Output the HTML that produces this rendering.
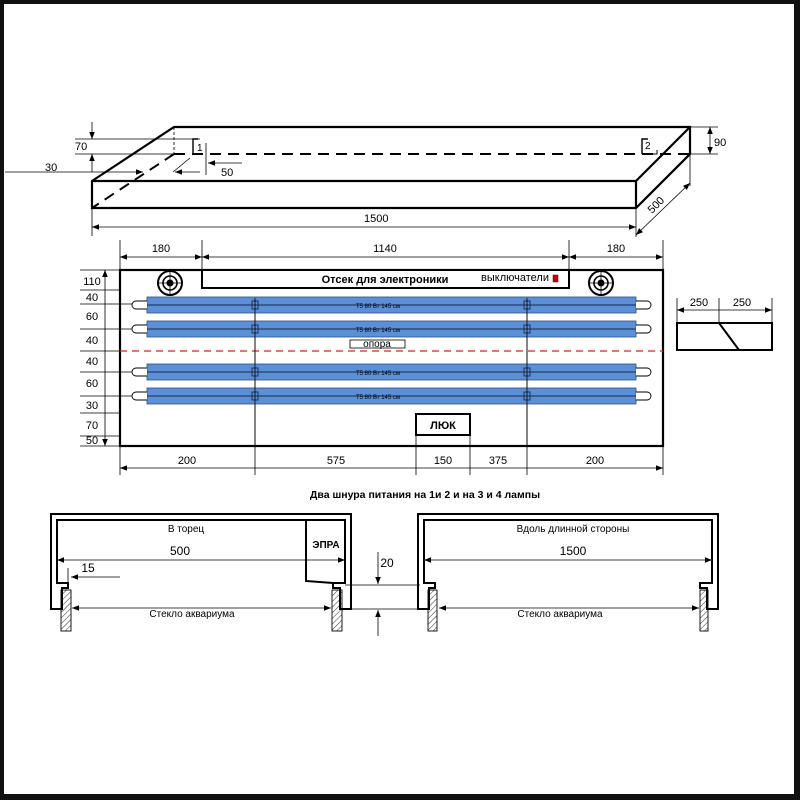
<!DOCTYPE html>
<html><head><meta charset="utf-8"><style>
html,body{margin:0;padding:0;background:#fff}
svg{display:block}
text{font-family:"Liberation Sans",sans-serif;fill:#000}
</style></head><body>
<svg width="800" height="800" viewBox="0 0 800 800" xmlns="http://www.w3.org/2000/svg">
<defs>
<marker id="a" viewBox="0 0 10 10" refX="10" refY="5" markerWidth="9" markerHeight="7" orient="auto-start-reverse" markerUnits="userSpaceOnUse"><path d="M0,1 L10,5 L0,9 z" fill="#000"/></marker>
<pattern id="h" width="4" height="4" patternUnits="userSpaceOnUse" patternTransform="rotate(45)"><line x1="0" y1="0" x2="0" y2="4" stroke="#000" stroke-width="0.8"/></pattern>
</defs>
<rect x="0" y="0" width="800" height="800" fill="#111"/>
<rect x="4" y="4" width="790" height="790" fill="#fff"/>

<!-- 3D box -->
<g stroke="#000" fill="none">
<polygon points="92,181 174,127 690,127 690,154 636,208 92,208" stroke-width="2.2"/>
<line x1="92" y1="181" x2="636" y2="181" stroke-width="2.2"/>
<line x1="636" y1="181" x2="690" y2="127" stroke-width="2.2"/>
<line x1="636" y1="181" x2="636" y2="208" stroke-width="2.2"/>
<line x1="174" y1="154" x2="690" y2="154" stroke-width="2" stroke-dasharray="11,7"/>
<line x1="174" y1="154" x2="92" y2="208" stroke-width="2" stroke-dasharray="11,7"/>
<line x1="174" y1="127" x2="174" y2="154" stroke-width="0.8" stroke-dasharray="3,2"/>
<polyline points="193,154 193,139 198,139" stroke-width="1.4"/>
<line x1="206" y1="143" x2="206" y2="175" stroke-width="0.8"/>
<polyline points="642,154 642,139 648,139" stroke-width="1.4"/>
<polyline points="650,154 657,154 657,150" stroke-width="1"/>
<g stroke-width="0.8">
<line x1="75" y1="139" x2="200" y2="139"/><line x1="75" y1="154" x2="174" y2="154"/>
<line x1="92" y1="122" x2="92" y2="139" marker-end="url(#a)"/>
<line x1="92" y1="172" x2="92" y2="154" marker-end="url(#a)"/>
<line x1="5" y1="172" x2="143" y2="172" marker-end="url(#a)"/>
<line x1="200" y1="172" x2="175" y2="172" marker-end="url(#a)"/>
<line x1="173" y1="172" x2="190" y2="158"/>
<line x1="242" y1="163" x2="208" y2="163" marker-end="url(#a)"/>
<line x1="690" y1="127" x2="718" y2="127"/><line x1="690" y1="154" x2="718" y2="154"/>
<line x1="710" y1="140" x2="710" y2="127" marker-end="url(#a)"/>
<line x1="710" y1="140" x2="710" y2="154" marker-end="url(#a)"/>
<line x1="690" y1="154" x2="690" y2="186"/><line x1="636" y1="208" x2="636" y2="237"/>
<line x1="663" y1="209" x2="690" y2="183" marker-end="url(#a)"/>
<line x1="663" y1="209" x2="636" y2="235" marker-end="url(#a)"/>
<line x1="92" y1="208" x2="92" y2="236"/>
<line x1="364" y1="227" x2="92" y2="227" marker-end="url(#a)"/>
<line x1="364" y1="227" x2="636" y2="227" marker-end="url(#a)"/>
</g>
</g>
<g font-size="11">
<text x="75" y="150">70</text><text x="45" y="171">30</text>
<text x="197" y="151" font-size="10">1</text><text x="221" y="176">50</text>
<text x="645" y="149" font-size="10">2</text>
<text x="714" y="146">90</text>
<text x="364" y="222">1500</text>
<text x="652" y="214" transform="rotate(-45 652 214)">500</text>
</g>

<!-- Plan -->
<g stroke="#000" fill="none" stroke-width="0.8">
<line x1="120" y1="240" x2="120" y2="475"/><line x1="202" y1="240" x2="202" y2="270"/>
<line x1="569" y1="240" x2="569" y2="270"/><line x1="663" y1="240" x2="663" y2="475"/>
<line x1="161" y1="257" x2="120" y2="257" marker-end="url(#a)"/><line x1="161" y1="257" x2="202" y2="257" marker-end="url(#a)"/>
<line x1="385" y1="257" x2="202" y2="257" marker-end="url(#a)"/><line x1="385" y1="257" x2="569" y2="257" marker-end="url(#a)"/>
<line x1="616" y1="257" x2="569" y2="257" marker-end="url(#a)"/><line x1="616" y1="257" x2="663" y2="257" marker-end="url(#a)"/>
<line x1="255" y1="298" x2="255" y2="475"/><line x1="527" y1="298" x2="527" y2="475"/>
<line x1="416" y1="425" x2="416" y2="475"/><line x1="470" y1="425" x2="470" y2="475"/>
<line x1="391" y1="468" x2="120" y2="468" marker-end="url(#a)"/><line x1="391" y1="468" x2="663" y2="468" marker-end="url(#a)"/>
<line x1="80" y1="270" x2="120" y2="270"/><line x1="80" y1="290" x2="120" y2="290"/>
<line x1="80" y1="304" x2="147" y2="304"/><line x1="80" y1="329" x2="147" y2="329"/>
<line x1="80" y1="351" x2="120" y2="351"/><line x1="80" y1="372" x2="147" y2="372"/>
<line x1="80" y1="396" x2="147" y2="396"/><line x1="80" y1="413" x2="120" y2="413"/>
<line x1="80" y1="436" x2="120" y2="436"/><line x1="80" y1="446" x2="120" y2="446"/>
<line x1="105" y1="358" x2="105" y2="270" marker-end="url(#a)"/><line x1="105" y1="358" x2="105" y2="446" marker-end="url(#a)"/>
</g>
<rect x="120" y="270" width="543" height="176" fill="none" stroke="#000" stroke-width="2.2"/>
<rect x="202" y="270" width="367" height="18" fill="#fff" stroke="#000" stroke-width="2"/>
<text x="385" y="283" font-size="11" font-weight="bold" text-anchor="middle">Отсек для электроники</text>
<text x="515" y="281" font-size="11" text-anchor="middle">выключатели</text>
<rect x="553" y="275" width="5" height="7" fill="#c00" stroke="#600" stroke-width="0.5"/>
<g stroke="#000" fill="none">
<circle cx="170" cy="283" r="12" stroke-width="2"/><circle cx="170" cy="283" r="7" stroke-width="1.6"/><circle cx="170" cy="283" r="3" fill="#000"/>
<line x1="158" y1="283" x2="182" y2="283" stroke-width="0.8"/><line x1="170" y1="271" x2="170" y2="295" stroke-width="0.8"/>
<circle cx="601" cy="283" r="12" stroke-width="2"/><circle cx="601" cy="283" r="7" stroke-width="1.6"/><circle cx="601" cy="283" r="3" fill="#000"/>
<line x1="589" y1="283" x2="613" y2="283" stroke-width="0.8"/><line x1="601" y1="271" x2="601" y2="295" stroke-width="0.8"/>
</g>
<line x1="120" y1="351" x2="663" y2="351" stroke="#d22" stroke-width="1.2" stroke-dasharray="7,5"/>
<g id="lamps">
<g>
<rect x="147" y="297" width="489" height="16" fill="#5b8fd6" stroke="#2d4f86" stroke-width="0.8"/>
<line x1="133" y1="305" x2="636" y2="305" stroke="#1a2a4a" stroke-width="1"/>
<path d="M147,301 H136 A4,4 0 0 0 136,309 H147 M636,301 H647 A4,4 0 0 1 647,309 H636" fill="#fff" stroke="#000" stroke-width="0.9"/>
<rect x="252" y="301" width="6" height="8" fill="none" stroke="#1a2a4a" stroke-width="0.9"/>
<rect x="524" y="301" width="6" height="8" fill="none" stroke="#1a2a4a" stroke-width="0.9"/>
<text x="378" y="308" font-size="6" fill="#1a2a4a" text-anchor="middle">T5 80 Вт 145 см</text>
</g>
<g transform="translate(0,24)">
<rect x="147" y="297" width="489" height="16" fill="#5b8fd6" stroke="#2d4f86" stroke-width="0.8"/>
<line x1="133" y1="305" x2="636" y2="305" stroke="#1a2a4a" stroke-width="1"/>
<path d="M147,301 H136 A4,4 0 0 0 136,309 H147 M636,301 H647 A4,4 0 0 1 647,309 H636" fill="#fff" stroke="#000" stroke-width="0.9"/>
<rect x="252" y="301" width="6" height="8" fill="none" stroke="#1a2a4a" stroke-width="0.9"/>
<rect x="524" y="301" width="6" height="8" fill="none" stroke="#1a2a4a" stroke-width="0.9"/>
<text x="378" y="308" font-size="6" fill="#1a2a4a" text-anchor="middle">T5 80 Вт 145 см</text>
</g>
<g transform="translate(0,67)">
<rect x="147" y="297" width="489" height="16" fill="#5b8fd6" stroke="#2d4f86" stroke-width="0.8"/>
<line x1="133" y1="305" x2="636" y2="305" stroke="#1a2a4a" stroke-width="1"/>
<path d="M147,301 H136 A4,4 0 0 0 136,309 H147 M636,301 H647 A4,4 0 0 1 647,309 H636" fill="#fff" stroke="#000" stroke-width="0.9"/>
<rect x="252" y="301" width="6" height="8" fill="none" stroke="#1a2a4a" stroke-width="0.9"/>
<rect x="524" y="301" width="6" height="8" fill="none" stroke="#1a2a4a" stroke-width="0.9"/>
<text x="378" y="308" font-size="6" fill="#1a2a4a" text-anchor="middle">T5 80 Вт 145 см</text>
</g>
<g transform="translate(0,91)">
<rect x="147" y="297" width="489" height="16" fill="#5b8fd6" stroke="#2d4f86" stroke-width="0.8"/>
<line x1="133" y1="305" x2="636" y2="305" stroke="#1a2a4a" stroke-width="1"/>
<path d="M147,301 H136 A4,4 0 0 0 136,309 H147 M636,301 H647 A4,4 0 0 1 647,309 H636" fill="#fff" stroke="#000" stroke-width="0.9"/>
<rect x="252" y="301" width="6" height="8" fill="none" stroke="#1a2a4a" stroke-width="0.9"/>
<rect x="524" y="301" width="6" height="8" fill="none" stroke="#1a2a4a" stroke-width="0.9"/>
<text x="378" y="308" font-size="6" fill="#1a2a4a" text-anchor="middle">T5 80 Вт 145 см</text>
</g>
</g>
<line x1="255" y1="298" x2="255" y2="446" stroke="#000" stroke-width="0.8"/>
<line x1="527" y1="298" x2="527" y2="446" stroke="#000" stroke-width="0.8"/>
<rect x="350" y="340" width="55" height="8" fill="#fff" stroke="#000" stroke-width="0.8"/>
<text x="377" y="347" font-size="10" text-anchor="middle">опора</text>
<rect x="416" y="414" width="54" height="21" fill="#fff" stroke="#000" stroke-width="2"/>
<text x="443" y="429" font-size="11" font-weight="bold" text-anchor="middle">ЛЮК</text>
<g font-size="11" text-anchor="middle">
<text x="161" y="252">180</text><text x="385" y="252">1140</text><text x="616" y="252">180</text>
<text x="92" y="285">110</text><text x="92" y="301">40</text><text x="92" y="320">60</text>
<text x="92" y="344">40</text><text x="92" y="365">40</text><text x="92" y="387">60</text>
<text x="92" y="409">30</text><text x="92" y="429">70</text><text x="92" y="444">50</text>
<text x="187" y="464">200</text><text x="336" y="464">575</text><text x="443" y="464">150</text>
<text x="498" y="464">375</text><text x="595" y="464">200</text>
<text x="425" y="498" font-weight="bold" font-size="10.5">Два шнура питания на 1и 2 и на 3 и 4 лампы</text>
<text x="699" y="306">250</text><text x="742" y="306">250</text>
</g>
<!-- small side -->
<g stroke="#000" fill="none">
<rect x="677" y="323" width="95" height="27" stroke-width="2"/>
<line x1="719" y1="323" x2="739" y2="350" stroke-width="2"/>
<g stroke-width="0.8">
<line x1="677" y1="298" x2="677" y2="323"/><line x1="719" y1="298" x2="719" y2="323"/><line x1="772" y1="298" x2="772" y2="323"/>
<line x1="719" y1="310" x2="677" y2="310" marker-end="url(#a)"/><line x1="719" y1="310" x2="772" y2="310" marker-end="url(#a)"/>
</g>
</g>

<!-- Cross sections -->
<g stroke="#000" stroke-width="2" fill="#fff">
<path d="M51,609 V514 H351 V609 H340 V588 H333 V583 H345 V520 H57 V583 H68 V588 H62 V609 Z"/>
<path d="M418,609 V514 H718 V609 H707 V588 H700 V583 H712 V520 H424 V583 H435 V588 H429 V609 Z"/>
<path d="M306,520 V581 L333,583" fill="none"/>
</g>
<g stroke="#000" stroke-width="0.9" fill="url(#h)">
<rect x="61" y="590" width="10" height="41"/><rect x="332" y="590" width="10" height="41"/>
<rect x="428" y="590" width="9" height="41"/><rect x="700" y="590" width="8" height="41"/>
</g>
<g stroke="#000" stroke-width="0.8" fill="none">
<line x1="200" y1="560" x2="57" y2="560" marker-end="url(#a)"/><line x1="200" y1="560" x2="345" y2="560" marker-end="url(#a)"/>
<line x1="68" y1="568" x2="68" y2="582"/>
<line x1="120" y1="577" x2="71" y2="577" marker-end="url(#a)"/>
<line x1="200" y1="608" x2="72" y2="608" marker-end="url(#a)"/><line x1="200" y1="608" x2="331" y2="608" marker-end="url(#a)"/>
<line x1="345" y1="585" x2="420" y2="585"/><line x1="351" y1="609" x2="420" y2="609"/>
<line x1="378" y1="552" x2="378" y2="584" marker-end="url(#a)"/>
<line x1="378" y1="636" x2="378" y2="610" marker-end="url(#a)"/>
<line x1="567" y1="560" x2="424" y2="560" marker-end="url(#a)"/><line x1="567" y1="560" x2="712" y2="560" marker-end="url(#a)"/>
<line x1="567" y1="608" x2="439" y2="608" marker-end="url(#a)"/><line x1="567" y1="608" x2="699" y2="608" marker-end="url(#a)"/>
</g>
<g font-size="10" text-anchor="middle">
<text x="186" y="532">В торец</text>
<text x="180" y="555" font-size="12">500</text>
<text x="88" y="572" font-size="12">15</text>
<text x="326" y="548" font-weight="bold">ЭПРА</text>
<text x="387" y="567" font-size="12">20</text>
<text x="192" y="617">Стекло аквариума</text>
<text x="573" y="532">Вдоль длинной стороны</text>
<text x="573" y="555" font-size="12">1500</text>
<text x="560" y="617">Стекло аквариума</text>
</g>
</svg>
</body></html>
